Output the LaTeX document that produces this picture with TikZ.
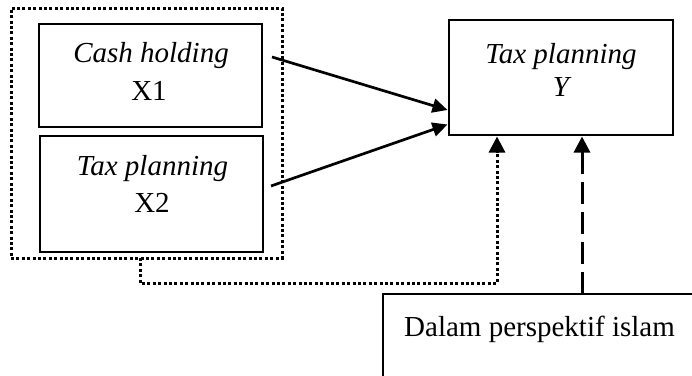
\documentclass[tikz,border=0pt]{standalone}
\usepackage{fontspec}
\setmainfont{Liberation Serif}
\usetikzlibrary{arrows.meta}
\begin{document}
\begin{tikzpicture}[x=1pt,y=-1pt,
  box/.style={draw=black,line width=2.7pt,minimum width=#1,inner sep=0pt,outer sep=0pt},
  grpbox/.style={draw=black,line width=3pt,dash pattern=on 3pt off 2.4pt,inner sep=0pt,outer sep=0pt},
  txt/.style={anchor=base,inner sep=0pt,font=\fontsize{29}{34}\selectfont},
  arr/.style={line width=2.7pt,-{Triangle[length=15pt,width=14pt]}},
  dotarr/.style={line width=3pt,dash pattern=on 3pt off 2.4pt,-{Triangle[length=16pt,width=16pt]}},
  dasharr/.style={line width=3pt,dash pattern=on 22pt off 8pt,-{Triangle[length=16pt,width=16pt]}}]
\useasboundingbox (0,0) rectangle (692,375);
\fill[white] (0,0) rectangle (692,375);
% group (dotted)
\node[grpbox,minimum width=271pt,minimum height=250pt] (grp) at (146.5,133) {};
% boxes
\node[box=223pt,minimum height=103pt] (x1) at (150.5,75.5) {};
\node[box=223pt,minimum height=116pt] (x2) at (151.5,194) {};
\node[box=224pt,minimum height=115pt] (yb) at (561,77.5) {};
\node[box=337pt,minimum height=126pt] (dal) at (551.5,357) {};
% texts
\node[txt] (x1a) at (151,62) {\itshape Cash holding};
\node[txt] (x1b) at (149,100) {X1};
\node[txt] (x2a) at (152.5,175) {\itshape Tax planning};
\node[txt] (x2b) at (152,212) {X2};
\node[txt] (yba) at (561,63) {\itshape Tax planning};
\node[txt] (ybb) at (561,96) {\itshape Y};
\node[txt] (dalt) at (539.5,336) {Dalam perspektif islam};
% connectors
\coordinate (s1) at (272,57);
\coordinate (s2) at (271,186);
\coordinate (t1) at ([yshift=25pt,xshift=-1.5pt]yb.south west);
\coordinate (t2) at ([yshift=10.5pt,xshift=-1.5pt]yb.south west);
\draw[arr] (s1) -- (t1);
\draw[arr] (s2) -- (t2);
\coordinate (tipD) at ([xshift=48pt,yshift=-1.5pt]yb.south west);
\coordinate (tipE) at ([xshift=133pt,yshift=-1.5pt]yb.south west);
\path (0,283) coordinate (lvl);
\coordinate (dotbend) at (tipD |- lvl);
\draw[dotarr] ([xshift=129pt]grp.south west) |- (dotbend) -- (tipD);
\draw[dasharr] (dal.north -| tipE) -- (tipE);
\end{tikzpicture}
\end{document}
